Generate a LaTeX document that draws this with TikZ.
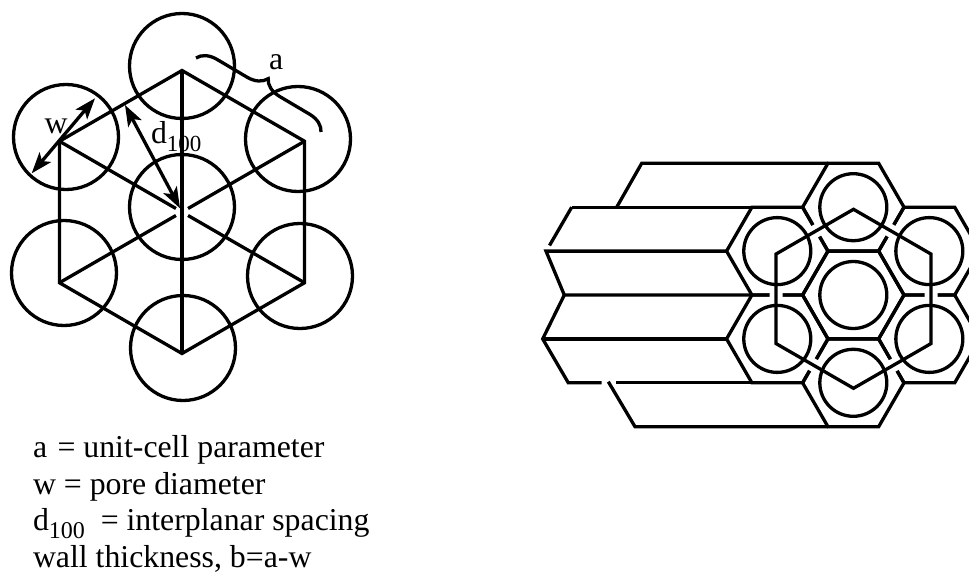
\documentclass[tikz,border=0pt]{standalone}
\usepackage{fontspec}
\setmainfont{Liberation Serif}
\usetikzlibrary{arrows.meta,decorations.pathreplacing,calc}
\begin{document}
\begin{tikzpicture}[x=1pt,y=-1pt,
  line width=3.3pt,
  every node/.style={inner sep=0pt, outer sep=0pt},
  wall/.style={line width=3.3pt, line join=miter},
  dimline/.style={line width=3.3pt,
    {Stealth[length=21pt,width=15pt,inset=5pt]}-{Stealth[length=21pt,width=15pt,inset=5pt]}},
  lbl/.style={font=\fontsize{31.8}{36.7}\selectfont, anchor=base west},
  halo/.style={preaction={draw=white, line width=13pt}},
]
\useasboundingbox (0,0) rectangle (969,575);
\clip (0,0) rectangle (969,575);

% ---------- plan view of the hexagonal unit cell ----------
\coordinate (O) at (182,212);
\foreach \n/\a in {T/90, UR/30, LR/-30, B/-90, LL/-150, UL/150}
  \coordinate (V\n) at ($(O)+(\a:141.5)$);

% outline and spokes (diagonals stop short of the centre)
\draw[wall] (VT) -- (VUR) -- (VLR) -- (VB) -- (VLL) -- (VUL) -- cycle;
\draw[wall] (VT) -- (VB);
\foreach \n in {UR,LR,LL,UL}
  \draw[wall] (V\n) -- ($(O)!7pt!(V\n)$);

% pores
\foreach \n/\x/\y in {T/182/66, UL/66/137, UR/298/139, LL/64/273, LR/300/276, B/183/348, C/182/207}
  \coordinate (P\n) at (\x,\y);
\foreach \n in {T,UL,UR,LL,LR,B,C}
  \draw[wall] (P\n) circle[radius=52.5];

% pore diameter and d100 spacing
\coordinate (w1) at (31.7,173.3);
\coordinate (w2) at (95,98.3);
\draw[dimline] (w1) -- (w2);
\coordinate (d1) at (125,105);
\coordinate (d2) at (180,208.3);
\draw[dimline] (d1) -- (d2);

\node[lbl] (wlab) at (44.5,133.5) {w};
\node[lbl] (dlab) at (151,144) {d\raisebox{-7.7pt}{\fontsize{23}{23}\selectfont 100}};

% unit-cell parameter brace
\coordinate (b1) at (196,58);
\coordinate (b2) at (321,132);
\draw[wall, decorate, decoration={brace, amplitude=19pt}] (b1) -- (b2);
\node[lbl] (alab) at (269,70) {a};

% legend
\node[lbl] (cap1) at (33,457) {a\hspace{2.5pt} = unit-cell parameter};
\node[lbl] (cap2) at (33,494) {w = pore diameter};
\node[lbl] (cap3) at (33,530.5) {d\raisebox{-8pt}{\fontsize{24}{24}\selectfont 100}\ \ = interplanar spacing};
\node[lbl] (cap4) at (33,567) {wall thickness, b=a-w};

% ---------- channel array in perspective ----------
\coordinate (H0) at (853.3,295);
\foreach \n/\a in {1/90, 2/30, 3/-30, 4/-90, 5/-150, 6/150}
  \coordinate (H\n) at ($(H0)+(\a:87.8)$);

% receding walls of the channels
\coordinate (tb1) at (641.7,163.3);  \coordinate (tf1) at (827.95,163.3);
\coordinate (tb2) at (616.7,207.2);
\coordinate (ub1) at (571.7,207.2);  \coordinate (uf1) at (751.9,207.2);
\coordinate (ubg) at (549.5,245.5);
\coordinate (ub2) at (546,251.1);    \coordinate (uf2) at (726.55,251.1);
\coordinate (lb1) at (564.3,295);    \coordinate (lf1) at (751.9,295);
\coordinate (lb2) at (542.7,338.9);  \coordinate (lf2) at (726.55,338.9);
\coordinate (lb3) at (568.3,382.8);  \coordinate (lf3) at (751.9,382.8);
\coordinate (lg1) at (601.7,382.8);  \coordinate (lg2) at (616,382.8);
\coordinate (bb1) at (608.3,381.7);
\coordinate (bb2) at (635,426.7);    \coordinate (bf2) at (827.95,426.7);

\draw[wall] (tb2) -- (tb1) -- (tf1);
\draw[wall] (ub1) -- (uf1);
\draw[wall] (ub1) -- (ubg);
\draw[wall] (uf2) -- (ub2) -- (lb1) -- (lf1);
\draw[wall] (lb1) -- (lb2) -- (lb3) -- (lg1);
\draw[wall] (lb2) -- (lf2);
\draw[wall] (lg2) -- (lf3);
\draw[wall] (bb1) -- (bb2) -- (bf2);

% front face: honeycomb of seven channels
\foreach \n in {0,...,6}
  \draw[wall, shift={(H\n)}] (0:50.7) -- (60:50.7) -- (120:50.7) -- (180:50.7)
    -- (240:50.7) -- (300:50.7) -- cycle;

% hexagonal lattice joining the outer channel centres
\coordinate (G) at (853.5,298.8);
\foreach \n/\a in {1/90, 2/30, 3/-30, 4/-90, 5/-150, 6/150}
  \coordinate (L\n) at ($(G)+(\a:89.5)$);
\draw[wall, halo] (L1) -- (L2) -- (L3) -- (L4) -- (L5) -- (L6) -- cycle;

% pores
\foreach \n in {0,...,6}
  \draw[wall] (H\n) circle[radius=33.5];

\end{tikzpicture}
\end{document}
